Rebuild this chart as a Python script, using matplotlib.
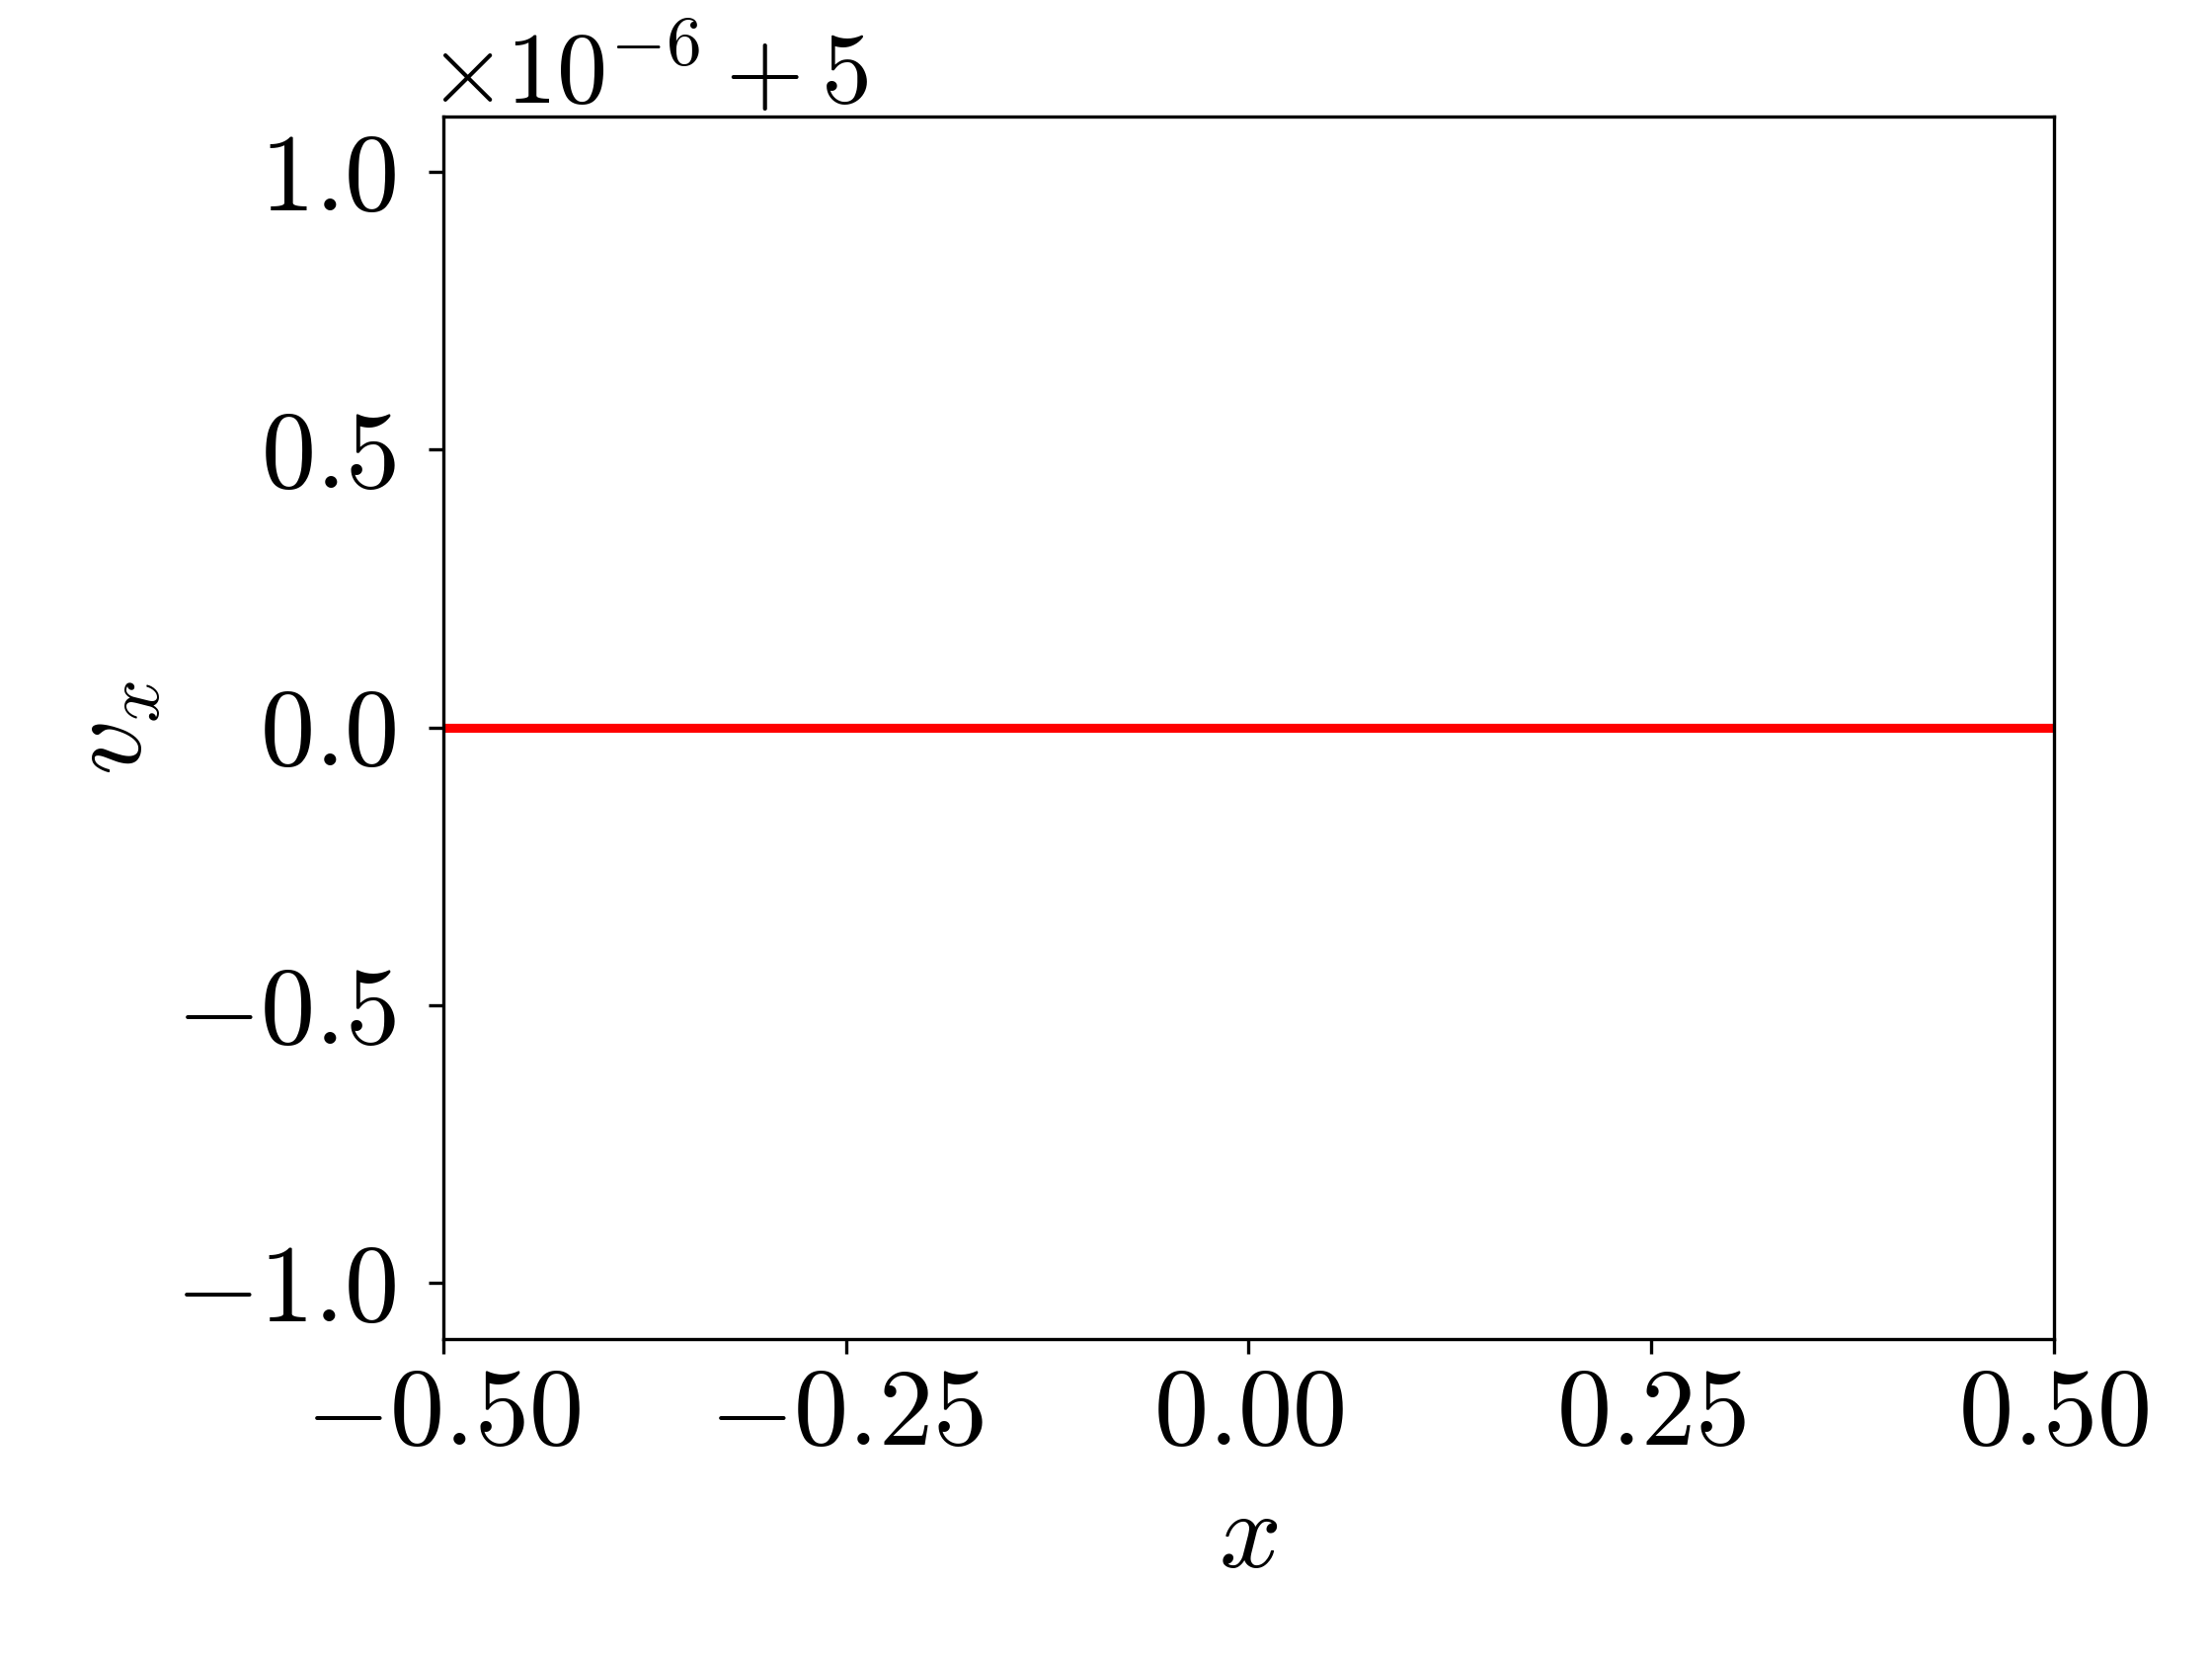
import numpy as np
import matplotlib
matplotlib.use('Agg')
import matplotlib.pyplot as plt
from matplotlib.ticker import ScalarFormatter

plt.rcParams['mathtext.fontset'] = 'cm'
plt.rcParams['font.family'] = 'serif'
plt.rcParams['font.serif'] = ['cmr10', 'DejaVu Serif']
plt.rcParams['axes.formatter.use_mathtext'] = True
plt.rcParams['font.size'] = 26.5

# data: velocity stays at 5 across the domain
x = [-0.5, 0.5]
vx = [5.0, 5.0]


class OffsetFormatter(ScalarFormatter):
    # put binary-operator spacing around the "+" of the offset text
    def get_offset(self):
        if self.orderOfMagnitude == 0 and self.offset == 0:
            return ''
        return r'$\times10^{%d} + %g$' % (self.orderOfMagnitude, self.offset)


fig = plt.figure(figsize=(2240 / 300, 1680 / 300), dpi=300)
ax = fig.add_axes([0.2005, 0.193, 0.728, 0.737])

ax.plot(x, vx, color='red', lw=2.2)

ax.set_xlim(-0.5, 0.5)
ax.set_ylim(5 - 1.1e-6, 5 + 1.1e-6)
ax.set_xticks([-0.5, -0.25, 0.0, 0.25, 0.5])
ax.set_yticks(5 + np.array([-1.0, -0.5, 0.0, 0.5, 1.0]) * 1e-6)
ax.yaxis.set_major_formatter(OffsetFormatter())
off = ax.yaxis.get_offset_text()
off.set_x(-0.01)
off.set_fontsize(24.5)
ax.tick_params(axis='y', pad=8)

ax.set_xlabel(r'$x$', labelpad=6)
ax.set_ylabel(r'$v_x$', labelpad=2.5)

fig.savefig('out.png', dpi=300)
